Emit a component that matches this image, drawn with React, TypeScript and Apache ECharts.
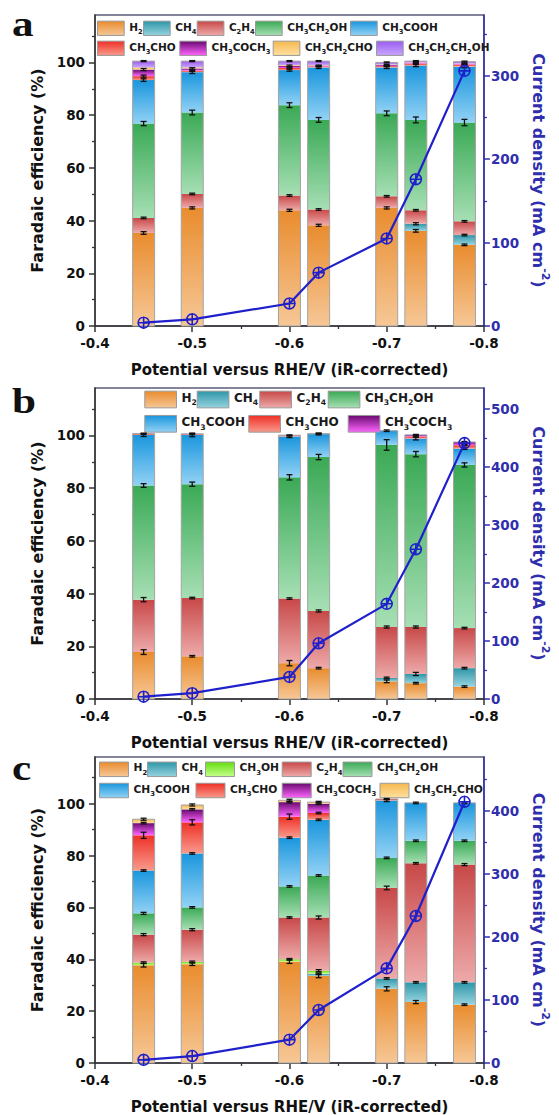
import React, { useEffect, useRef } from 'react';
import * as echarts from 'echarts';

// Applied potentials (V vs RHE) shared by the three catalysts
const potentials = [-0.45, -0.5, -0.6, -0.63, -0.7, -0.73, -0.78];

// ---- panel a: Faradaic efficiencies (%) and their errors ----
const aH2 = [35.3, 44.8, 43.9, 38.2, 44.8, 36.1, 30.8];
const aCH4 = [0, 0, 0, 0, 0, 2.7, 3.7];
const aC2H4 = [5.7, 5.3, 5.6, 6.0, 4.4, 5.1, 5.2];
const aEtOH = [35.8, 30.9, 34.3, 34.0, 31.5, 34.3, 37.5];
const aHAc = [16.5, 15.3, 13.3, 19.9, 17.4, 20.6, 21.2];
const aCHO = [1.5, 0.6, 0.8, 0.4, 0.5, 0.8, 0.8];
const aAcetone = [2.5, 0.8, 0.8, 0.3, 0.4, 0.2, 0.3];
const aPropanal = [0.8, 0.4, 0.3, 0.2, 0.2, 0.1, 0.1];
const aPropanol = [2.4, 2.4, 1.5, 1.5, 0.8, 0.6, 0.7];

const aH2Err = [0.5, 0.4, 0.4, 0.4, 0.4, 0.5, 0.3];
const aCH4Err = [0, 0, 0, 0, 0, 0.4, 0.3];
const aC2H4Err = [0.3, 0.3, 0.3, 0.3, 0.3, 0.3, 0.3];
const aEtOHErr = [0.8, 0.9, 0.9, 0.9, 0.9, 1.1, 1.2];
const aHAcErr = [0.5, 0.5, 0.4, 0.4, 0.4, 0.4, 0.4];
const aCHOErr = [0.4, 0.3, 0.3, 0.2, 0.2, 0.2, 0.2];
const aAcetoneErr = [0.4, 0.3, 0.3, 0.2, 0.2, 0.2, 0.2];
const aPropanalErr = [0, 0, 0, 0, 0, 0, 0];
const aPropanolErr = [0.2, 0.2, 0.2, 0.2, 0.2, 0.2, 0.2];

const aCurrent = [4, 8, 27, 64, 105, 176, 306];

// ---- panel b ----
const bH2 = [17.8, 16.2, 13.6, 11.7, 6.7, 6.0, 4.7];
const bCH4 = [0, 0, 0, 0, 1.3, 3.5, 7.0];
const bC2H4 = [19.9, 22.1, 24.5, 21.7, 19.3, 17.8, 15.2];
const bEtOH = [43.3, 43.2, 46.0, 58.4, 69.1, 65.6, 61.9];
const bHAc = [19.2, 18.7, 15.5, 8.7, 5.4, 5.9, 6.2];
const bCHO = [0.4, 0.3, 0.4, 0.2, 0, 0.8, 1.3];
const bAcetone = [0.1, 0.1, 0.1, 0, 0, 0.6, 1.2];

const bH2Err = [0.9, 0.3, 1.0, 0.3, 0.5, 0.3, 0.3];
const bCH4Err = [0, 0, 0, 0, 0.3, 0.6, 0.3];
const bC2H4Err = [0.8, 0.3, 0.3, 0.4, 0.4, 0.4, 0.3];
const bEtOHErr = [0.7, 0.8, 1.0, 1.0, 2.0, 1.0, 0.8];
const bHAcErr = [0.6, 0.7, 0.4, 0.3, 0.3, 0.5, 0.3];
const bCHOErr = [0.2, 0.2, 0.2, 0.2, 0, 0.2, 0.2];
const bAcetoneErr = [0, 0, 0, 0, 0, 0.2, 0.2];

const bCurrent = [4, 10, 38, 96, 164, 258, 441];

// ---- panel c ----
const cH2 = [37.7, 38.1, 39.1, 33.6, 28.6, 23.5, 22.5];
const cCH4 = [0, 0, 0, 0.8, 4.0, 7.6, 8.6];
const cMeOH = [1.0, 0.9, 0.9, 1.2, 0, 0, 0];
const cC2H4 = [10.8, 12.4, 16.1, 20.5, 34.9, 45.9, 45.4];
const cEtOH = [8.2, 8.6, 12.0, 16.2, 11.6, 8.7, 9.2];
const cHAc = [16.5, 20.8, 18.8, 21.5, 22.1, 14.6, 14.6];
const cCHO = [13.6, 12.0, 8.1, 2.6, 0.6, 0, 0];
const cAcetone = [4.7, 5.0, 5.6, 3.6, 0, 0, 0];
const cPropanal = [1.5, 1.7, 0.7, 0.6, 0, 0, 0];

const cH2Err = [0.7, 0.5, 0.7, 0.7, 0.8, 0.6, 0.3];
const cCH4Err = [0, 0, 0, 0.3, 0.3, 0.3, 0.3];
const cMeOHErr = [0.3, 0.3, 0.3, 0.4, 0, 0, 0];
const cC2H4Err = [0.4, 0.4, 0.3, 0.6, 0.7, 0.3, 0.4];
const cEtOHErr = [0.4, 0.3, 0.3, 0.3, 0.3, 0.3, 0.3];
const cHAcErr = [0.3, 0.3, 0.3, 0.3, 0.4, 0.3, 0.3];
const cCHOErr = [1.2, 1.0, 1.0, 0.3, 0.2, 0, 0];
const cAcetoneErr = [0.3, 0.3, 0.3, 0.3, 0, 0, 0];
const cPropanalErr = [0.4, 0.4, 0.4, 0.3, 0, 0, 0];

const cCurrent = [5, 11, 37, 84, 150, 233, 414];

// tick values
const feMajor = [0, 20, 40, 60, 80, 100];
const feMinor = [10, 30, 50, 70, 90, 110];
const jMajorA = [0, 100, 200, 300];
const jMinorA = [50, 150, 250, 350];
const jMajorB = [0, 100, 200, 300, 400, 500];
const jMinorB = [50, 150, 250, 350, 450];
const jMajorC = [0, 100, 200, 300, 400];
const jMinorC = [50, 150, 250, 350, 450];

// ---- styling ----
const FONT = '"DejaVu Sans", sans-serif';
const INK = '#111';
const LINE_BLUE = '#1f20cc';
const AXIS_BLUE = '#2f2fae';
const BAR_W = 22;

// top (dark) -> bottom (light) colours of each product
const SHADES: Record<string, [string, string]> = {
  H2: ['#e98c2e', '#f6c796'],
  CH4: ['#2f96a8', '#96d3df'],
  CH3OH: ['#66dd11', '#c6ff8c'],
  C2H4: ['#c84848', '#eeaaaa'],
  CH3CH2OH: ['#3aa955', '#a6dfb4'],
  CH3COOH: ['#1a96dd', '#92d2f5'],
  CH3CHO: ['#ee3026', '#f99a8c'],
  CH3COCH3: ['#6a0a70', '#ff66ff'],
  CH3CH2CHO: ['#f4b850', '#ffe0a0'],
  CH3CH2CH2OH: ['#9b5cf0', '#c9a6ff'],
};

const grad = (name: string) =>
  new echarts.graphic.LinearGradient(0, 0, 0, 1, [
    { offset: 0, color: SHADES[name][0] },
    { offset: 1, color: SHADES[name][1] },
  ]);

type Product = [string, number[], number[]];

const panels: {
  letter: string;
  top: number;
  products: Product[];
  current: number[];
  jMax: number;
  jMajor: number[];
  jMinor: number[];
}[] = [
  {
    letter: 'a',
    top: 15,
    products: [
      ['H2', aH2, aH2Err],
      ['CH4', aCH4, aCH4Err],
      ['C2H4', aC2H4, aC2H4Err],
      ['CH3CH2OH', aEtOH, aEtOHErr],
      ['CH3COOH', aHAc, aHAcErr],
      ['CH3CHO', aCHO, aCHOErr],
      ['CH3COCH3', aAcetone, aAcetoneErr],
      ['CH3CH2CHO', aPropanal, aPropanalErr],
      ['CH3CH2CH2OH', aPropanol, aPropanolErr],
    ],
    current: aCurrent,
    jMax: 373,
    jMajor: jMajorA,
    jMinor: jMinorA,
  },
  {
    letter: 'b',
    top: 388,
    products: [
      ['H2', bH2, bH2Err],
      ['CH4', bCH4, bCH4Err],
      ['C2H4', bC2H4, bC2H4Err],
      ['CH3CH2OH', bEtOH, bEtOHErr],
      ['CH3COOH', bHAc, bHAcErr],
      ['CH3CHO', bCHO, bCHOErr],
      ['CH3COCH3', bAcetone, bAcetoneErr],
    ],
    current: bCurrent,
    jMax: 536,
    jMajor: jMajorB,
    jMinor: jMinorB,
  },
  {
    letter: 'c',
    top: 757,
    products: [
      ['H2', cH2, cH2Err],
      ['CH4', cCH4, cCH4Err],
      ['CH3OH', cMeOH, cMeOHErr],
      ['C2H4', cC2H4, cC2H4Err],
      ['CH3CH2OH', cEtOH, cEtOHErr],
      ['CH3COOH', cHAc, cHAcErr],
      ['CH3CHO', cCHO, cCHOErr],
      ['CH3COCH3', cAcetone, cAcetoneErr],
      ['CH3CH2CHO', cPropanal, cPropanalErr],
    ],
    current: cCurrent,
    jMax: 485,
    jMajor: jMajorC,
    jMinor: jMinorC,
  },
];

// legend placement (swatch size, font size, row centre and item left edges)
const legendLayout = [
  {
    w: 26.7, h: 14.3, fs: 10.5,
    rows: [
      { cy: 27.8, items: [['H2', 97], ['CH4', 143], ['C2H4', 196.7], ['CH3CH2OH', 255], ['CH3COOH', 350]] },
      { cy: 47.8, items: [['CH3CHO', 97], ['CH3COCH3', 179.3], ['CH3CH2CHO', 272.7], ['CH3CH2CH2OH', 376]] },
    ],
  },
  {
    w: 31.7, h: 16.7, fs: 12,
    rows: [
      { cy: 399, items: [['H2', 144.3], ['CH4', 196.7], ['C2H4', 259.3], ['CH3CH2OH', 327.7]] },
      { cy: 423.3, items: [['CH3COOH', 144.3], ['CH3CHO', 248.3], ['CH3COCH3', 347.7]] },
    ],
  },
  {
    w: 29, h: 14.5, fs: 10.7,
    rows: [
      { cy: 768.8, items: [['H2', 99], ['CH4', 147], ['CH3OH', 205], ['C2H4', 281.7], ['CH3CH2OH', 342.5]] },
      { cy: 790, items: [['CH3COOH', 99], ['CH3CHO', 195.5], ['CH3COCH3', 281.7], ['CH3CH2CHO', 379.5]] },
    ],
  },
];

// ring with a cross, the marker of the current-density curve
const RING_PLUS =
  'path://M10,0A10,10 0 1,1 -10,0A10,10 0 1,1 10,0ZM7.5,0A7.5,7.5 0 1,0 -7.5,0A7.5,7.5 0 1,0 7.5,0Z' +
  'M-1.25,-10H1.25V-1.25H10V1.25H1.25V10H-1.25V1.25H-10V-1.25H-1.25Z';

const subscript = (name: string) =>
  name.replace(/([A-Za-z]+)|(\d+)/g, (_m, a, d) => (a ? `{t|${a}}` : `{s|${d}}`));

function buildOption() {
  const grid: any[] = [];
  const xAxis: any[] = [];
  const yAxis: any[] = [];
  const series: any[] = [];
  const legend: any[] = [];
  const graphic: any[] = [];

  panels.forEach((p, i) => {
    grid.push({
      left: 95,
      top: p.top,
      width: 393,
      height: 311,
      show: true,
      borderColor: '#5b5b78',
      borderWidth: 1.5,
      backgroundColor: 'transparent',
    });

    xAxis.push({
      type: 'value',
      gridIndex: i,
      min: -0.8,
      max: -0.4,
      interval: 0.1,
      inverse: true,
      axisLine: { show: true, onZero: false, lineStyle: { color: '#333', width: 1.5 } },
      axisTick: { show: true, length: 6, lineStyle: { color: '#333', width: 1.5 } },
      minorTick: { show: true, splitNumber: 2, length: 3, lineStyle: { color: '#333', width: 1.3 } },
      splitLine: { show: false },
      axisLabel: {
        formatter: (v: number) => v.toFixed(1),
        fontFamily: FONT,
        fontWeight: 'bold',
        fontSize: 13.5,
        color: INK,
        margin: 10,
      },
      name: 'Potential versus RHE/V (iR-corrected)',
      nameLocation: 'middle',
      nameGap: 36,
      nameTextStyle: { fontFamily: FONT, fontWeight: 'bold', fontSize: 15, color: INK },
    });

    // left: Faradaic efficiency (major + minor ticks)
    yAxis.push({
      type: 'value',
      gridIndex: i,
      position: 'left',
      min: 0,
      max: 118,
      axisLine: { show: true, onZero: false, lineStyle: { color: '#333', width: 1.5 } },
      axisTick: { show: true, length: 6, customValues: feMajor, lineStyle: { color: '#333', width: 1.5 } },
      axisLabel: {
        customValues: feMajor,
        fontFamily: FONT,
        fontWeight: 'bold',
        fontSize: 13.5,
        color: INK,
        margin: 10,
      },
      splitLine: { show: false },
      name: 'Faradaic efficiency (%)',
      nameLocation: 'middle',
      nameRotate: 90,
      nameGap: 39,
      nameTextStyle: { fontFamily: FONT, fontWeight: 'bold', fontSize: 16, color: INK },
    });
    yAxis.push({
      type: 'value',
      gridIndex: i,
      position: 'left',
      min: 0,
      max: 118,
      axisLine: { show: false },
      axisTick: { show: true, length: 3, customValues: feMinor, lineStyle: { color: '#333', width: 1.3 } },
      axisLabel: { show: false },
      splitLine: { show: false },
    });

    // right: current density
    yAxis.push({
      type: 'value',
      gridIndex: i,
      position: 'right',
      min: 0,
      max: p.jMax,
      axisLine: { show: true, onZero: false, lineStyle: { color: AXIS_BLUE, width: 1.5 } },
      axisTick: { show: true, length: 6, customValues: p.jMajor, lineStyle: { color: AXIS_BLUE, width: 1.5 } },
      axisLabel: {
        customValues: p.jMajor,
        fontFamily: FONT,
        fontWeight: 'bold',
        fontSize: 13.5,
        color: AXIS_BLUE,
        margin: 7,
      },
      splitLine: { show: false },
      name: '{n|Current density (mA cm}{p|-2}{n|)}',
      nameLocation: 'middle',
      nameRotate: -90,
      nameGap: 42,
      nameTextStyle: {
        rich: {
          n: {
            fontFamily: FONT,
            fontWeight: 'bold',
            fontSize: 16,
            color: AXIS_BLUE,
            padding: [5, 0, 0, 0],
            verticalAlign: 'top',
          },
          p: {
            fontFamily: FONT,
            fontWeight: 'bold',
            fontSize: 11,
            color: AXIS_BLUE,
            verticalAlign: 'top',
          },
        },
      },
    });
    yAxis.push({
      type: 'value',
      gridIndex: i,
      position: 'right',
      min: 0,
      max: p.jMax,
      axisLine: { show: false },
      axisTick: { show: true, length: 3, customValues: p.jMinor, lineStyle: { color: AXIS_BLUE, width: 1.3 } },
      axisLabel: { show: false },
      splitLine: { show: false },
    });

    // stacked bar segments
    const base = potentials.map(() => 0);
    const errItems: number[][] = [];
    p.products.forEach(([name, vals, errs]) => {
      const fill = grad(name);
      const data = potentials.map((x, j) => {
        const b = base[j];
        const t = b + vals[j];
        base[j] = t;
        if (vals[j] > 0 && errs[j] > 0) errItems.push([x, t, errs[j]]);
        return [x, b, t];
      });
      series.push({
        type: 'custom',
        name,
        xAxisIndex: i,
        yAxisIndex: 4 * i,
        itemStyle: { color: fill },
        encode: { x: 0, y: [1, 2] },
        z: 2,
        data,
        renderItem: (_params: any, api: any) => {
          const x = api.value(0);
          const y0 = api.value(1);
          const y1 = api.value(2);
          if (!(y1 - y0 > 0)) return null;
          const top = api.coord([x, y1]);
          const bot = api.coord([x, y0]);
          return {
            type: 'rect',
            shape: { x: top[0] - BAR_W / 2, y: top[1], width: BAR_W, height: bot[1] - top[1] },
            style: { fill, stroke: null },
          };
        },
      });
    });

    // thin outline round each whole bar
    series.push({
      type: 'custom',
      name: 'outline',
      xAxisIndex: i,
      yAxisIndex: 4 * i,
      encode: { x: 0, y: 1 },
      z: 3,
      silent: true,
      data: potentials.map((x, j) => [x, base[j]]),
      renderItem: (_params: any, api: any) => {
        const top = api.coord([api.value(0), api.value(1)]);
        const bot = api.coord([api.value(0), 0]);
        return {
          type: 'rect',
          shape: { x: top[0] - BAR_W / 2, y: top[1], width: BAR_W, height: bot[1] - top[1] },
          style: { fill: 'none', stroke: '#a4a4a4', lineWidth: 1 },
        };
      },
    });

    // error bars at the top of each segment
    series.push({
      type: 'custom',
      name: 'error',
      xAxisIndex: i,
      yAxisIndex: 4 * i,
      encode: { x: 0, y: 1 },
      z: 4,
      silent: true,
      data: errItems,
      renderItem: (_params: any, api: any) => {
        const x = api.value(0);
        const y = api.value(1);
        const e = api.value(2);
        const hi = api.coord([x, y + e]);
        const lo = api.coord([x, y - e]);
        const c = 3;
        const st = { stroke: '#111', lineWidth: 1.3 };
        return {
          type: 'group',
          children: [
            { type: 'line', shape: { x1: hi[0], y1: hi[1], x2: lo[0], y2: lo[1] }, style: st },
            { type: 'line', shape: { x1: hi[0] - c, y1: hi[1], x2: hi[0] + c, y2: hi[1] }, style: st },
            { type: 'line', shape: { x1: lo[0] - c, y1: lo[1], x2: lo[0] + c, y2: lo[1] }, style: st },
          ],
        };
      },
    });

    // current density curve
    series.push({
      type: 'line',
      name: 'Current density',
      xAxisIndex: i,
      yAxisIndex: 4 * i + 2,
      data: potentials.map((x, j) => [x, p.current[j]]),
      symbol: RING_PLUS,
      symbolSize: 12.5,
      clip: false,
      z: 6,
      lineStyle: { color: LINE_BLUE, width: 2.2 },
      itemStyle: { color: LINE_BLUE },
    });

    // panel letter
    graphic.push({
      type: 'text',
      x: 12,
      y: [24, 401, 768][i],
      scaleX: 1.2,
      style: {
        text: p.letter,
        font: 'bold 36px "Liberation Serif", serif',
        fill: INK,
        align: 'left',
        verticalAlign: 'middle',
        textAlign: 'left',
        textVerticalAlign: 'middle',
      },
    });
  });

  legendLayout.forEach((L) => {
    L.rows.forEach((row) => {
      row.items.forEach(([name, left]) => {
        legend.push({
          data: [name],
          left,
          top: row.cy - L.h / 2,
          padding: 0,
          itemWidth: L.w,
          itemHeight: L.h,
          icon: 'rect',
          selectedMode: false,
          itemStyle: { borderColor: '#9a9a9a', borderWidth: 1 },
          formatter: (n: string) => subscript(n),
          textStyle: {
            fontFamily: FONT,
            fontWeight: 'bold',
            fontSize: L.fs,
            color: '#1a1a1a',
            rich: {
              t: {
                fontFamily: FONT,
                fontWeight: 'bold',
                fontSize: L.fs,
                color: '#1a1a1a',
                padding: [0, 0, 3, 0],
                verticalAlign: 'bottom',
              },
              s: {
                fontFamily: FONT,
                fontWeight: 'bold',
                fontSize: L.fs * 0.64,
                color: '#1a1a1a',
                verticalAlign: 'bottom',
              },
            },
          },
        });
      });
    });
  });

  return {
    animation: false,
    backgroundColor: '#fff',
    textStyle: { fontFamily: FONT },
    grid,
    xAxis,
    yAxis,
    legend,
    series,
    graphic,
  };
}

export default function App() {
  const ref = useRef<HTMLDivElement>(null);
  useEffect(() => {
    if (!ref.current) return;
    const chart = echarts.init(ref.current, undefined, { renderer: 'svg' });
    chart.setOption(buildOption() as any);
    return () => chart.dispose();
  }, []);
  return (
    <div
      ref={ref}
      style={{ position: 'absolute', left: 0, top: 0, width: 559, height: 1115, background: '#fff' }}
    />
  );
}
